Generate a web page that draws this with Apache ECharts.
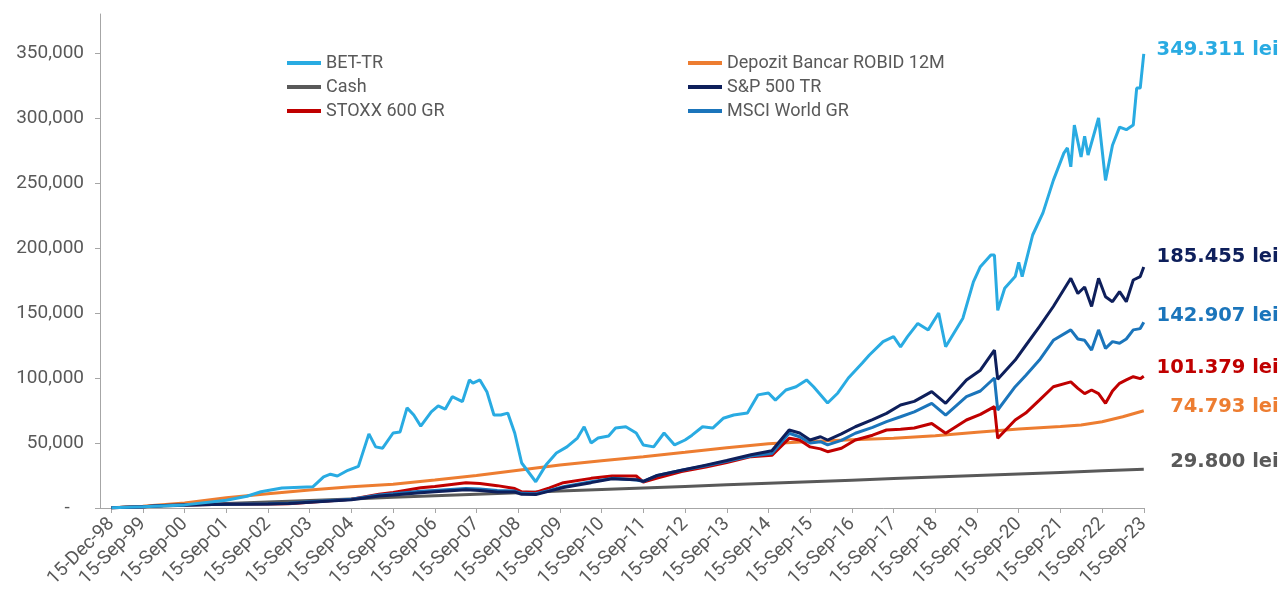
<!DOCTYPE html>
<html>
<head>
<meta charset="utf-8">
<script src="https://cdn.jsdelivr.net/npm/echarts@6/dist/echarts.min.js"></script>
<style>
  html, body { margin: 0; padding: 0; background: #fff; }
  #chart { width: 1284px; height: 593px; }
</style>
</head>
<body>
<div id="chart"></div>
<script>
// date axis ticks (Excel style labels)
const tickDates = ['1998-12-15', '1999-09-15', '2000-09-15', '2001-09-15', '2002-09-15', '2003-09-15',
  '2004-09-15', '2005-09-15', '2006-09-15', '2007-09-15', '2008-09-15', '2009-09-15', '2010-09-15',
  '2011-09-15', '2012-09-15', '2013-09-15', '2014-09-15', '2015-09-15', '2016-09-15', '2017-09-15',
  '2018-09-15', '2019-09-15', '2020-09-15', '2021-09-15', '2022-09-15', '2023-09-15']
const yTicks = [0, 50000, 100000, 150000, 200000, 250000, 300000, 350000]

// BET-TR
const betDates = ['1998-12', '1999-09', '2000-09', '2001-09', '2002-03', '2002-07', '2003-01', '2003-10',
  '2004-01', '2004-03', '2004-05', '2004-08', '2004-11', '2005-02', '2005-04', '2005-06', '2005-09', '2005-11',
  '2006-01', '2006-03', '2006-05', '2006-08', '2006-10', '2006-12', '2007-02', '2007-05', '2007-07', '2007-08',
  '2007-10', '2007-12', '2008-02', '2008-04', '2008-06', '2008-08', '2008-10', '2009-02', '2009-05', '2009-08',
  '2009-11', '2010-02', '2010-04', '2010-06', '2010-08', '2010-11', '2011-01', '2011-04', '2011-07', '2011-09',
  '2011-12', '2012-03', '2012-06', '2012-09', '2012-11', '2013-02', '2013-05', '2013-08', '2013-11', '2014-03',
  '2014-06', '2014-09', '2014-11', '2015-02', '2015-05', '2015-08', '2015-10', '2016-02', '2016-05', '2016-08',
  '2016-12', '2017-02', '2017-06', '2017-09', '2017-11', '2018-01', '2018-04', '2018-07', '2018-10', '2018-12',
  '2019-05', '2019-08', '2019-10', '2020-01', '2020-02', '2020-03', '2020-05', '2020-08', '2020-09', '2020-10',
  '2021-01', '2021-04', '2021-07', '2021-10', '2021-11', '2021-12', '2022-01', '2022-03', '2022-04', '2022-05',
  '2022-08', '2022-10', '2022-12', '2023-02', '2023-04', '2023-06', '2023-07', '2023-08', '2023-09']
const betValues = [100, 1000, 2400, 6000, 9000, 12500, 15400, 16400,
  24000, 26000, 24600, 29000, 32000, 57000, 47000, 46000, 57700, 58500,
  77000, 71500, 63000, 74000, 78500, 76000, 85600, 81800, 98500, 96000,
  98500, 89500, 71500, 71500, 73000, 57700, 34600, 20200, 33000, 42300,
  47000, 53800, 62500, 50000, 53800, 55400, 61500, 62500, 57700, 48500,
  47000, 57700, 48500, 52300, 56000, 62500, 61500, 69000, 71500, 73000,
  87000, 88500, 83000, 90800, 93300, 98500, 93300, 80800, 88500, 100000,
  111500, 117700, 128000, 131800, 124000, 131800, 142000, 137000, 150000, 124000,
  146000, 174000, 185600, 194600, 194600, 152000, 169000, 178000, 189000, 178000,
  210000, 227000, 252000, 273000, 277000, 262500, 294600, 270000, 286000, 271500,
  300000, 252000, 279000, 293000, 291000, 294600, 323000, 323000, 349311]

// Depozit Bancar ROBID 12M
const depDates = ['1998-12', '1999-09', '2000-09', '2001-09', '2002-09', '2003-09', '2004-09', '2005-09',
  '2006-09', '2007-09', '2008-09', '2009-09', '2010-09', '2011-09', '2012-09', '2013-09', '2014-09',
  '2015-09', '2016-09', '2017-09', '2018-09', '2019-09', '2020-09', '2021-09', '2022-03', '2022-09',
  '2023-03', '2023-09']
const depValues = [100, 1300, 3800, 7800, 11000, 13800, 16300, 18300,
  21500, 25000, 29000, 33000, 36300, 39500, 42800, 46300, 49400,
  51200, 52500, 53600, 55600, 58200, 60800, 62600, 63800, 66400,
  70200, 74793]

// Cash
const cashDates = ['1998-12', '1999-09', '2000-09', '2001-09', '2002-09', '2003-09', '2004-09', '2005-09',
  '2006-09', '2007-09', '2008-09', '2009-09', '2010-09', '2011-09', '2012-09', '2013-09', '2014-09',
  '2015-09', '2016-09', '2017-09', '2018-09', '2019-09', '2020-09', '2021-09', '2022-09', '2023-09']
const cashValues = [100, 1000, 2200, 3400, 4600, 5800, 7000, 8200,
  9400, 10600, 11800, 13000, 14200, 15400, 16600, 17800, 19000,
  20200, 21400, 22600, 23800, 25000, 26200, 27400, 28600, 29800]

// shared dates for the equity indices
const eqDates = ['1998-12', '1999-09', '2000-03', '2000-09', '2001-09', '2002-09', '2003-03', '2003-09',
  '2004-09', '2005-05', '2005-09', '2006-05', '2006-09', '2007-06', '2007-10', '2008-03', '2008-08',
  '2008-10', '2009-02', '2009-06', '2009-10', '2010-06', '2010-12', '2011-07', '2011-09', '2012-01',
  '2012-08', '2013-03', '2013-09', '2014-04', '2014-10', '2015-03', '2015-06', '2015-09', '2015-12',
  '2016-02', '2016-06', '2016-10', '2017-03', '2017-07', '2017-11', '2018-03', '2018-08', '2018-12',
  '2019-06', '2019-10', '2020-02', '2020-03', '2020-08', '2020-11', '2021-03', '2021-07', '2021-12',
  '2022-02', '2022-04', '2022-06', '2022-08', '2022-10', '2022-12', '2023-02', '2023-04', '2023-06',
  '2023-08', '2023-09']

// S&P 500 TR
const spValues = [100, 1000, 1900, 2250, 2800, 3100, 3400, 4500,
  6300, 9200, 10000, 11800, 12500, 14000, 13500, 12300, 12300,
  10500, 10300, 13000, 15800, 19500, 22500, 21800, 20500, 25000,
  29000, 33000, 36500, 41000, 44000, 60000, 57700, 52300, 54800,
  52300, 57000, 62500, 68000, 72800, 79200, 82000, 89500, 80500,
  98500, 106000, 121500, 99000, 113800, 125000, 139500, 155000, 176700,
  165000, 170000, 155000, 176700, 162500, 158700, 166400, 158700, 175400,
  178000, 185455]

// MSCI World GR
const msciValues = [100, 1000, 1900, 2300, 2900, 3300, 3600, 4800,
  6800, 10000, 11000, 12800, 13500, 15000, 14600, 13500, 13000,
  11300, 11000, 13500, 16400, 20200, 22800, 21500, 20500, 25000,
  29000, 32500, 36000, 40000, 42000, 57500, 54800, 50000, 51000,
  48500, 52000, 57500, 62000, 66400, 70200, 74000, 80500, 71500,
  85600, 90000, 100000, 75400, 93300, 102000, 113800, 129000, 137000,
  130000, 129000, 121500, 137000, 122800, 128000, 126700, 130000, 137000,
  138000, 142907]

// STOXX 600 GR
const stoxxValues = [100, 1050, 2000, 2400, 2900, 3000, 3300, 4500,
  6800, 10500, 12000, 15500, 16500, 19500, 18800, 17200, 15000,
  12500, 12000, 15500, 19500, 22800, 24600, 24600, 20000, 23000,
  28000, 31500, 35000, 39500, 40500, 53600, 52300, 47000, 45500,
  43300, 46000, 52300, 56000, 60000, 60500, 61500, 65000, 57500,
  67700, 72000, 78000, 53600, 67700, 73000, 83000, 93300, 97000,
  92000, 88000, 90800, 88000, 80500, 90000, 95900, 98500, 101000,
  99500, 101379]

const months = ['Jan', 'Feb', 'Mar', 'Apr', 'May', 'Jun', 'Jul', 'Aug', 'Sep', 'Oct', 'Nov', 'Dec']
const grey = '#595959'
const axisGrey = '#a6a6a6'

const ts = (s) => echarts.time.parse(s).getTime()
const toPairs = (dates, values) => dates.map((d, i) => [ts(d + '-15'), values[i]])
const leiText = (v) => String(Math.round(v)).replace(/\B(?=(\d{3})+(?!\d))/g, '.') + ' lei'

const chart = echarts.init(document.getElementById('chart'))

// serie de linie, cu eticheta la final
const makeSeries = (name, dates, values, color, dy) => ({
  name,
  type: 'line',
  data: toPairs(dates, values),
  showSymbol: false,
  symbol: 'none',
  color,
  lineStyle: { width: 3, color },
  emphasis: { disabled: true },
  endLabel: {
    show: true,
    formatter: (p) => leiText(p.value[1]),
    color,
    fontFamily: 'DejaVu Sans',
    fontWeight: 'bold',
    fontSize: 19.5,
    align: 'right',
    distance: 0,
    offset: [135, dy]
  }
})

const tickValues = tickDates.map(ts)

const legendBase = {
  top: 54, orient: 'vertical', itemGap: 6, padding: 0,
  itemWidth: 34, itemHeight: 4, icon: 'rect',
  textStyle: { color: grey, fontSize: 18, fontFamily: 'Roboto' }
}

const option = {
  animation: false,
  textStyle: { fontFamily: 'Roboto' },
  grid: { left: 100, right: 140, top: 14, bottom: 85, containLabel: false },
  legend: [
    { ...legendBase, left: 287, data: ['BET-TR', 'Cash', 'STOXX 600 GR'] },
    { ...legendBase, left: 688, data: ['Depozit Bancar ROBID 12M', 'S&P 500 TR', 'MSCI World GR'] }
  ],
  xAxis: {
    type: 'value',
    min: ts('1998-09-05'),
    max: ts('2023-09-17'),
    axisLine: { show: true, lineStyle: { color: axisGrey, width: 1 } },
    axisTick: { show: true, length: 5, customValues: tickValues, lineStyle: { color: axisGrey } },
    splitLine: { show: false },
    axisLabel: {
      customValues: tickValues,
      rotate: 45,
      margin: 13,
      color: grey,
      fontSize: 19,
      fontFamily: 'Roboto',
      hideOverlap: false,
      formatter: (v) => {
        const d = new Date(v)
        return '15-' + months[d.getMonth()] + '-' + String(d.getFullYear()).slice(2)
      }
    }
  },
  yAxis: {
    type: 'value',
    min: 0,
    max: 380000,
    axisLine: { show: true, lineStyle: { color: axisGrey, width: 1 } },
    axisTick: { show: true, length: 5, customValues: yTicks, lineStyle: { color: axisGrey } },
    splitLine: { show: false },
    axisLabel: {
      customValues: yTicks,
      margin: 16,
      color: grey,
      fontSize: 19,
      fontFamily: 'Roboto',
      formatter: (v) => v === 0 ? '-\u00a0\u00a0\u00a0' : v.toLocaleString('en-US')
    }
  },
  series: [
    makeSeries('Cash', cashDates, cashValues, '#595959', -7),
    makeSeries('Depozit Bancar ROBID 12M', depDates, depValues, '#ed7d31', -4),
    makeSeries('STOXX 600 GR', eqDates, stoxxValues, '#c00000', -8),
    makeSeries('MSCI World GR', eqDates, msciValues, '#1b75bb', -6),
    makeSeries('S&P 500 TR', eqDates, spValues, '#0e1f5b', -10),
    makeSeries('BET-TR', betDates, betValues, '#29abe2', -4)
  ]
}

chart.setOption(option)
</script>
</body>
</html>
